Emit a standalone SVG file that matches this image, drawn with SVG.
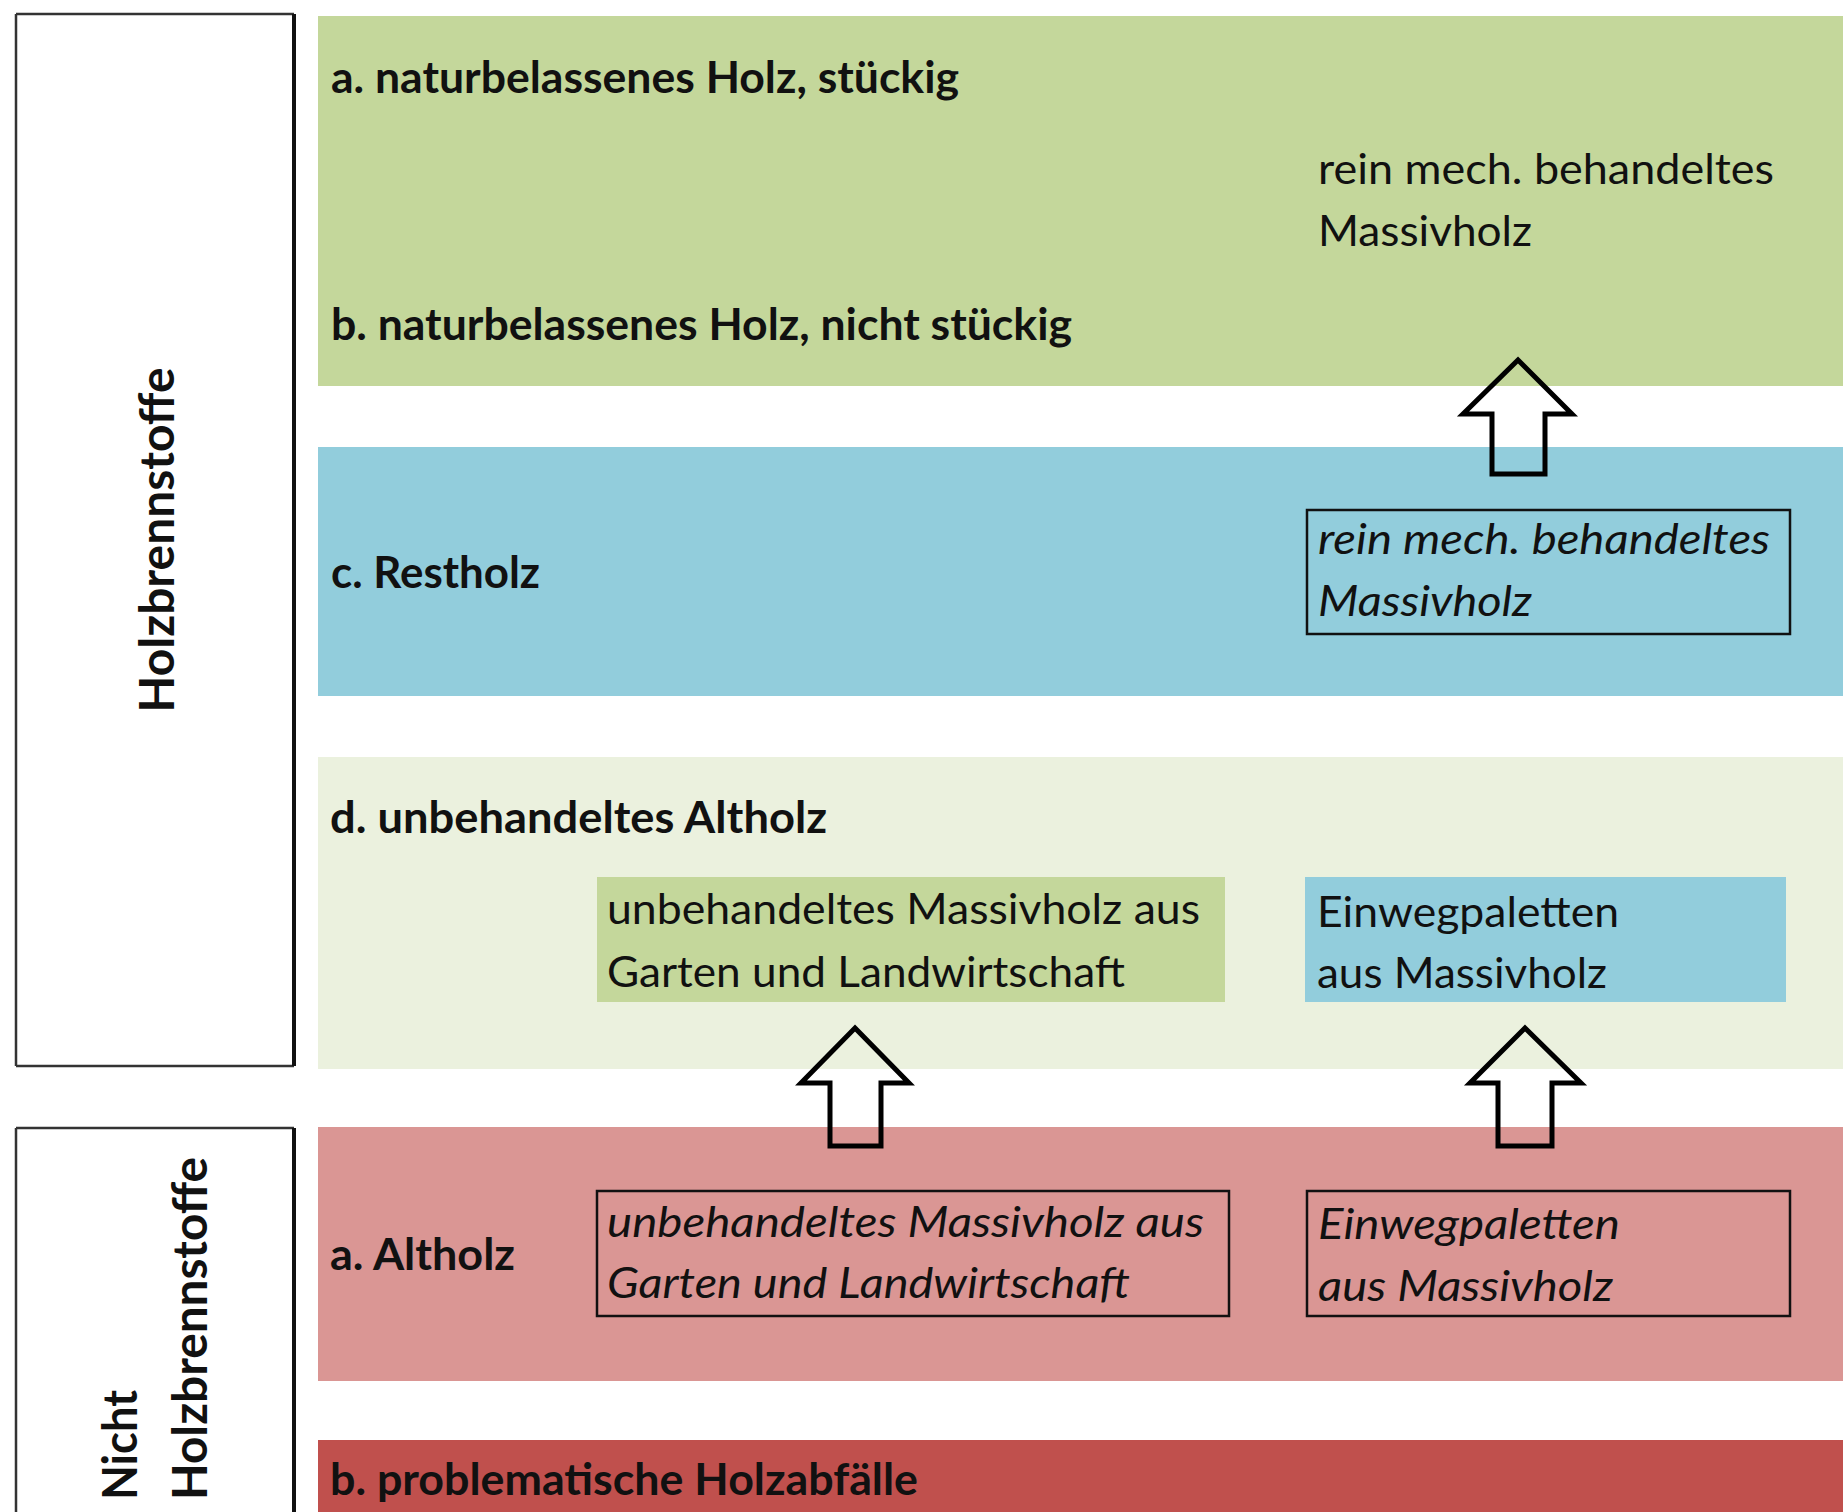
<svg xmlns="http://www.w3.org/2000/svg" width="1843" height="1512" viewBox="0 0 1843 1512">
<style>
.t{font-family:Lato,"Open Sans","Liberation Sans",sans-serif;font-size:43px;fill:#111}
.b{font-weight:bold}
.i{font-style:italic}
.v{font-family:Lato,"Open Sans","Liberation Sans",sans-serif;font-size:47px;font-weight:bold;fill:#111}
.frame{fill:none;stroke:#111;stroke-width:2.5}
.arrow{fill:none;stroke:#000;stroke-width:5;stroke-linejoin:miter}
</style>
<rect width="1843" height="1512" fill="#fff"/>
<g id="band-a-b">
<rect x="318" y="16" width="1525" height="370" fill="#c4d79b"/>
<text class="t b" x="331" y="93" textLength="628" lengthAdjust="spacingAndGlyphs">a. naturbelassenes Holz, stückig</text>
<text class="t b" x="331" y="340" textLength="741" lengthAdjust="spacingAndGlyphs">b. naturbelassenes Holz, nicht stückig</text>
<text class="t" x="1318" y="184" textLength="456" lengthAdjust="spacingAndGlyphs">rein mech. behandeltes</text>
<text class="t" x="1318" y="246" textLength="214" lengthAdjust="spacingAndGlyphs">Massivholz</text>
</g>
<g id="band-c">
<rect x="318" y="447" width="1525" height="249" fill="#92cddc"/>
<text class="t b" x="331" y="588" textLength="209" lengthAdjust="spacingAndGlyphs">c. Restholz</text>
</g>
<g id="box-c">
<rect class="frame" x="1307" y="510" width="483" height="124"/>
<text class="t i" x="1318" y="554" textLength="452" lengthAdjust="spacingAndGlyphs">rein mech. behandeltes</text>
<text class="t i" x="1318" y="616" textLength="214" lengthAdjust="spacingAndGlyphs">Massivholz</text>
</g>
<g id="band-d">
<rect x="318" y="757" width="1525" height="312" fill="#ebf1de"/>
<text class="t b" x="330" y="833" textLength="497" lengthAdjust="spacingAndGlyphs">d. unbehandeltes Altholz</text>
</g>
<g id="box-d1">
<rect x="597" y="877" width="628" height="125" fill="#c4d79b"/>
<text class="t" x="607" y="924" textLength="593" lengthAdjust="spacingAndGlyphs">unbehandeltes Massivholz aus</text>
<text class="t" x="607" y="987" textLength="518" lengthAdjust="spacingAndGlyphs">Garten und Landwirtschaft</text>
</g>
<g id="box-d2">
<rect x="1305" y="877" width="481" height="125" fill="#92cddc"/>
<text class="t" x="1317" y="927" textLength="302" lengthAdjust="spacingAndGlyphs">Einwegpaletten</text>
<text class="t" x="1317" y="988" textLength="290" lengthAdjust="spacingAndGlyphs">aus Massivholz</text>
</g>
<g id="band-altholz">
<rect x="318" y="1127" width="1525" height="254" fill="#da9694"/>
<text class="t b" x="330" y="1270" textLength="185" lengthAdjust="spacingAndGlyphs">a. Altholz</text>
</g>
<g id="box-alt1">
<rect class="frame" x="597" y="1191" width="632" height="125"/>
<text class="t i" x="607" y="1237" textLength="597" lengthAdjust="spacingAndGlyphs">unbehandeltes Massivholz aus</text>
<text class="t i" x="607" y="1298" textLength="523" lengthAdjust="spacingAndGlyphs">Garten und Landwirtschaft</text>
</g>
<g id="box-alt2">
<rect class="frame" x="1307" y="1191" width="483" height="125"/>
<text class="t i" x="1318" y="1239" textLength="302" lengthAdjust="spacingAndGlyphs">Einwegpaletten</text>
<text class="t i" x="1318" y="1301" textLength="295" lengthAdjust="spacingAndGlyphs">aus Massivholz</text>
</g>
<g id="band-problem">
<rect x="318" y="1440" width="1525" height="72" fill="#c0504d"/>
<text class="t b" x="330" y="1495" textLength="588" lengthAdjust="spacingAndGlyphs">b. problematische Holzabfälle</text>
</g>
<g id="label-holzbrennstoffe">
<path d="M16,14 V1066 M16,14 H294 M16,1066 H294" fill="none" stroke="#333" stroke-width="2.5"/>
<path d="M294,14 V1066" fill="none" stroke="#111" stroke-width="4"/>
<text class="v" transform="translate(174,540) rotate(-90)" text-anchor="middle" textLength="345" lengthAdjust="spacingAndGlyphs">Holzbrennstoffe</text>
</g>
<g id="label-nicht">
<path d="M16,1128 V1512 M16,1128 H294" fill="none" stroke="#333" stroke-width="2.5"/>
<path d="M294,1128 V1512" fill="none" stroke="#111" stroke-width="4"/>
<text class="v" transform="translate(137,1500) rotate(-90)" textLength="110" lengthAdjust="spacingAndGlyphs">Nicht</text>
<text class="v" transform="translate(207,1500) rotate(-90)" textLength="343" lengthAdjust="spacingAndGlyphs">Holzbrennstoffe</text>
</g>
<g id="connectors">
<path class="arrow" d="M1518,360 L1572,414 L1545,414 L1545,474 L1492,474 L1492,414 L1463,414 Z"/>
<path class="arrow" d="M855,1028 L909,1083 L881,1083 L881,1146 L830,1146 L830,1083 L801,1083 Z"/>
<path class="arrow" d="M1525,1028 L1581,1083 L1552,1083 L1552,1146 L1498,1146 L1498,1083 L1470,1083 Z"/>
</g>
</svg>
